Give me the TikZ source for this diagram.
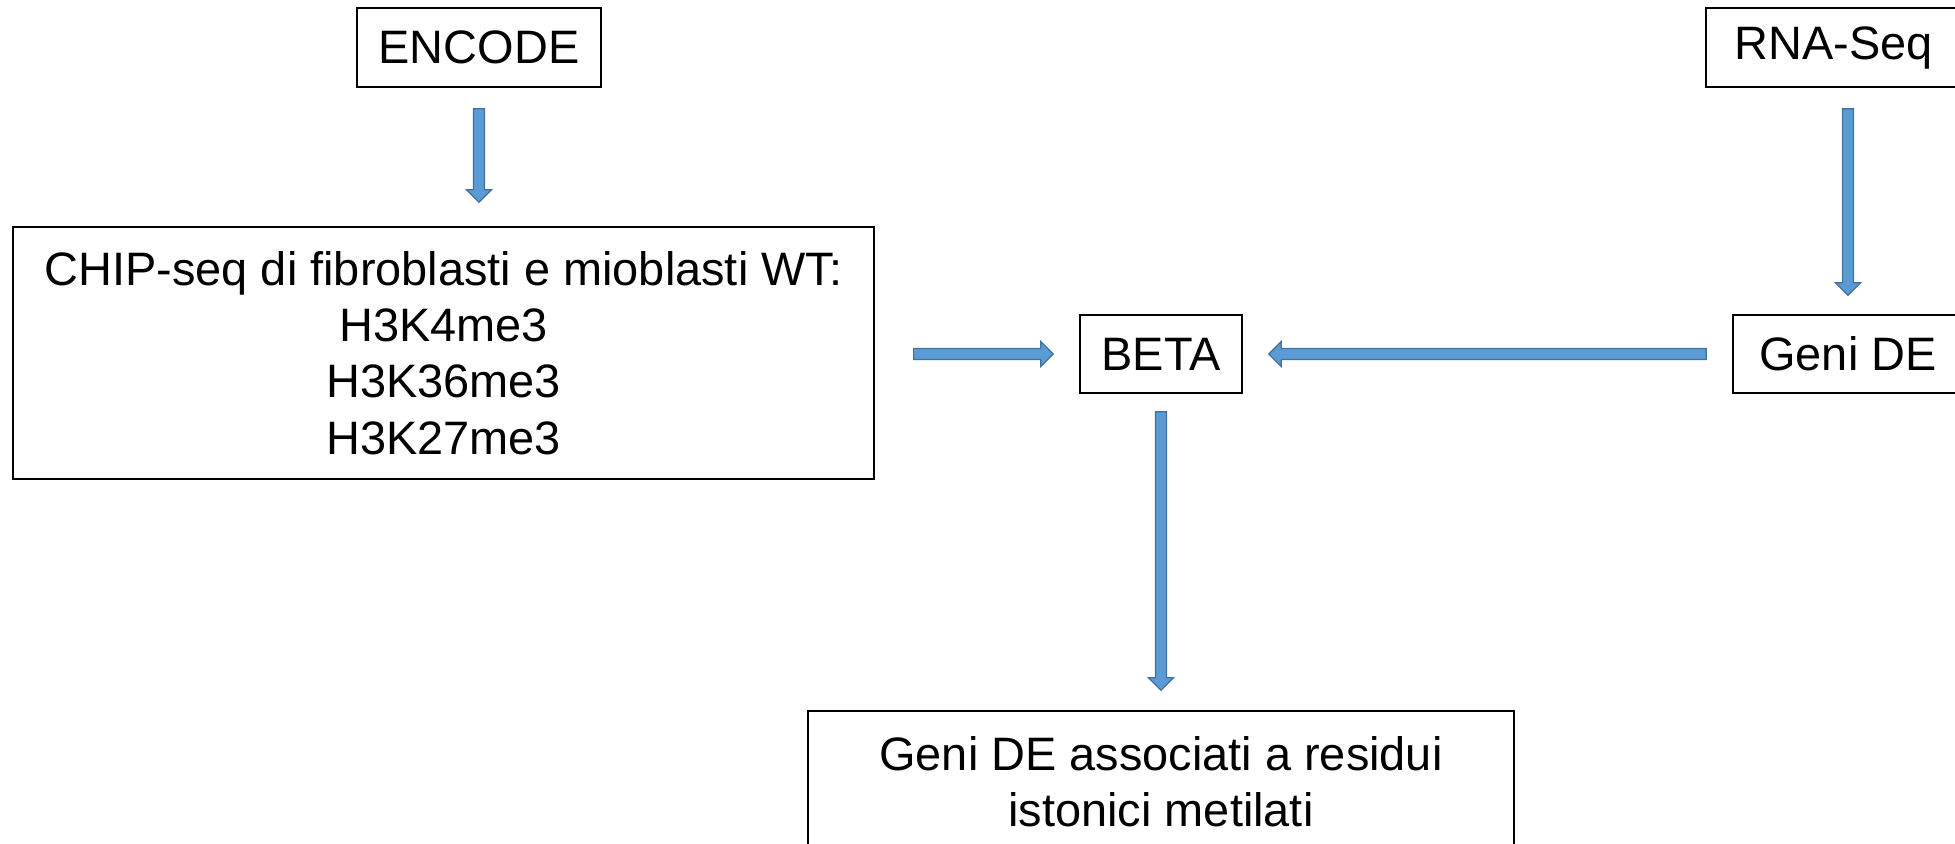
\documentclass[tikz,border=0pt]{standalone}
\usepackage{fontspec}
\setmainfont{Liberation Sans}
\usetikzlibrary{calc}
\definecolor{arrowfill}{RGB}{91,155,213}
\definecolor{arrowedge}{RGB}{65,113,156}

\tikzset{
  box/.style={draw, line width=0.8pt, inner sep=0pt, align=center,
    font=\fontsize{26.7}{32}\selectfont},
  blockarrow/.style 2 args={draw=arrowedge, fill=arrowfill, line width=0.7pt, line join=miter,
    to path={let \p1=($(\tikztostart)!#1!(\tikztotarget)$),
      \p2=($(\tikztotarget)!#2!(\tikztostart)$),
      \n1={atan2(\y2-\y1,\x2-\x1)},
      \p3=($(\p2)!0.25cm!(\p1)$) in
      ($(\p1)+(\n1+90:0.11cm)$) -- ($(\p3)+(\n1+90:0.11cm)$)
      -- ($(\p3)+(\n1+90:0.25cm)$) -- (\p2)
      -- ($(\p3)+(\n1-90:0.25cm)$) -- ($(\p3)+(\n1-90:0.11cm)$)
      -- ($(\p1)+(\n1-90:0.11cm)$) -- cycle}}
}

\begin{document}
\begin{tikzpicture}[x=0.02cm, y=-0.02cm]
\useasboundingbox (0,0) rectangle (1955,844);

% Data sources
\node[box, minimum width=4.88cm, minimum height=1.58cm] (encode) at (479,47.5) {ENCODE};
\node[box, minimum width=5.12cm, minimum height=1.58cm] (rnaseq) at (1834,47.5) {RNA-Seq};

% Intermediate results
\node[box, minimum width=17.22cm, minimum height=5.04cm] (chip) at (443.5,353)
  {CHIP-seq di fibroblasti e mioblasti WT:\\H3K4me3\\H3K36me3\\H3K27me3};
\node[box, minimum width=3.24cm, minimum height=1.56cm] (beta) at (1161,354) {BETA};
\node[box, minimum width=4.6cm, minimum height=1.56cm] (geni) at (1848,354) {Geni DE};

% Final output
\node[box, minimum width=14.12cm, minimum height=2.84cm] (result) at (1161,782)
  {Geni DE associati a residui\\istonici metilati};

% Block arrows
\draw[blockarrow={0.42cm}{0.48cm}] (encode.south) to (encode.south |- chip.north);
\draw[blockarrow={0.42cm}{0.38cm}] (geni.north |- rnaseq.south) to (geni.north);
\draw[blockarrow={0.78cm}{0.52cm}] (chip.east |- beta.west) to (beta.west);
\draw[blockarrow={0.52cm}{0.52cm}] (geni.west) to (beta.east);
\draw[blockarrow={0.36cm}{0.4cm}] (beta.south) to (result.north);
\end{tikzpicture}
\end{document}
